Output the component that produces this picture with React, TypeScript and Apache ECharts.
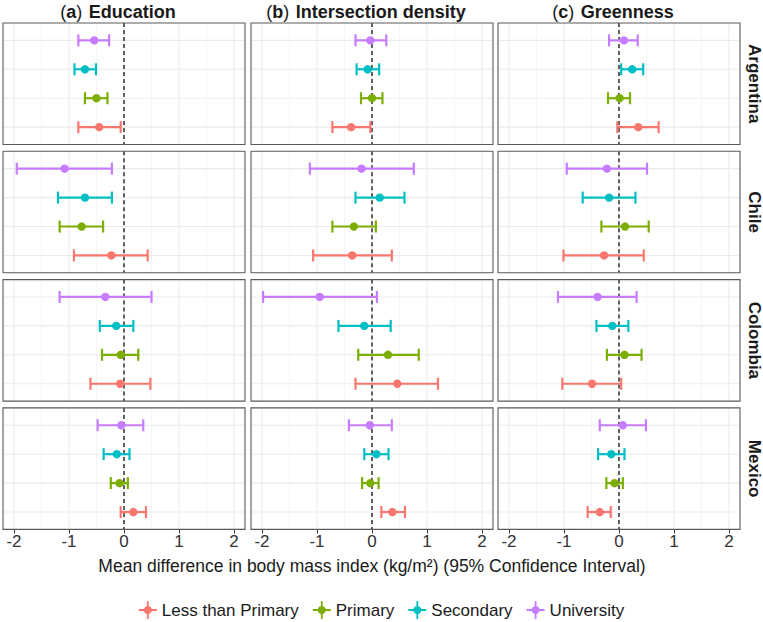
import React, { useEffect, useRef } from "react";
import * as echarts from "echarts";

const levels = ["Less than Primary", "Primary", "Secondary", "University"];
const levelColors = ["#F8766D", "#7CAE00", "#00BFC4", "#C77CFF"];
const countries = ["Argentina", "Chile", "Colombia", "Mexico"];
const exposures = ["Education", "Intersection density", "Greenness"];
const panelTags = ["a", "b", "c"];
const xTicks = [-2, -1, 0, 1, 2];
const xMinorTicks = [-1.5, -0.5, 0.5, 1.5];

// Each row: [lower 95% CI, estimate, upper 95% CI], in the order of `levels`
const argentinaEducation = [[-0.83, -0.45, -0.06], [-0.71, -0.5, -0.3], [-0.9, -0.71, -0.51], [-0.83, -0.54, -0.27]];
const argentinaIntersection = [[-0.72, -0.38, -0.03], [-0.2, 0.0, 0.19], [-0.28, -0.08, 0.13], [-0.3, -0.03, 0.26]];
const argentinaGreenness = [[-0.03, 0.35, 0.72], [-0.2, 0.01, 0.2], [0.04, 0.24, 0.44], [-0.18, 0.09, 0.34]];

const chileEducation = [[-0.91, -0.23, 0.43], [-1.17, -0.77, -0.38], [-1.2, -0.71, -0.22], [-1.95, -1.08, -0.22]];
const chileIntersection = [[-1.07, -0.36, 0.36], [-0.72, -0.33, 0.07], [-0.3, 0.14, 0.59], [-1.13, -0.19, 0.76]];
const chileGreenness = [[-1.01, -0.27, 0.45], [-0.32, 0.11, 0.54], [-0.66, -0.18, 0.3], [-0.95, -0.22, 0.51]];

const colombiaEducation = [[-0.61, -0.07, 0.48], [-0.4, -0.06, 0.26], [-0.44, -0.14, 0.17], [-1.17, -0.34, 0.5]];
const colombiaIntersection = [[-0.3, 0.46, 1.2], [-0.25, 0.29, 0.85], [-0.61, -0.14, 0.34], [-1.98, -0.95, 0.09]];
const colombiaGreenness = [[-1.03, -0.49, 0.04], [-0.22, 0.1, 0.41], [-0.41, -0.12, 0.17], [-1.11, -0.39, 0.32]];

const mexicoEducation = [[-0.06, 0.17, 0.4], [-0.24, -0.08, 0.07], [-0.37, -0.13, 0.1], [-0.48, -0.05, 0.35]];
const mexicoIntersection = [[0.17, 0.37, 0.6], [-0.18, -0.03, 0.12], [-0.14, 0.08, 0.3], [-0.42, -0.04, 0.36]];
const mexicoGreenness = [[-0.57, -0.35, -0.15], [-0.23, -0.08, 0.07], [-0.38, -0.14, 0.1], [-0.35, 0.07, 0.49]];

const panelData = [
  [argentinaEducation, argentinaIntersection, argentinaGreenness],
  [chileEducation, chileIntersection, chileGreenness],
  [colombiaEducation, colombiaIntersection, colombiaGreenness],
  [mexicoEducation, mexicoIntersection, mexicoGreenness],
];

const FONT = "'Liberation Sans', Arial, Helvetica, sans-serif";
const colLeft = [3, 251, 498];
const panelWidth = 242;
const rowTop0 = 23;
const rowStep = 128.3;
const panelHeight = 121.5;

const crossIcon =
  "path://M0,9L20,9L20,11L0,11Z M9,0L11,0L11,20L9,20Z M10,5.5A4.5,4.5,0,1,1,9.99,5.5Z";

function buildOption() {
  const grid: any[] = [];
  const xAxis: any[] = [];
  const yAxis: any[] = [];
  const series: any[] = [];

  for (let r = 0; r < countries.length; r++) {
    for (let c = 0; c < exposures.length; c++) {
      const idx = r * exposures.length + c;
      const bottomRow = r === countries.length - 1;
      grid.push({
        left: colLeft[c],
        top: rowTop0 + r * rowStep,
        width: panelWidth,
        height: panelHeight,
        containLabel: false,
      });
      xAxis.push({
        type: "value",
        gridIndex: idx,
        min: -2.2,
        max: 2.2,
        axisLine: { show: false },
        splitLine: { show: false },
        axisTick: {
          show: bottomRow,
          customValues: xTicks,
          length: 4,
          lineStyle: { color: "#333", width: 1 },
        },
        axisLabel: {
          show: bottomRow,
          customValues: xTicks,
          fontSize: 17,
          color: "#333",
          margin: 4,
          fontFamily: FONT,
        },
      });
      yAxis.push({ type: "value", gridIndex: idx, min: 0.4, max: 4.6, show: false });

      // panel background: grid lines, zero reference line and border
      series.push({
        type: "custom",
        xAxisIndex: idx,
        yAxisIndex: idx,
        silent: true,
        z: 1,
        data: [[0, 1]],
        renderItem: (params: any, api: any) => {
          const cs = params.coordSys;
          const top = cs.y;
          const bottom = cs.y + cs.height;
          const left = cs.x;
          const right = cs.x + cs.width;
          const children: any[] = [];
          xMinorTicks.forEach((v) => {
            const x = api.coord([v, 1])[0];
            children.push({
              type: "line",
              shape: { x1: x, y1: top, x2: x, y2: bottom },
              style: { stroke: "#F0F0F0", lineWidth: 0.7 },
            });
          });
          xTicks.forEach((v) => {
            const x = api.coord([v, 1])[0];
            children.push({
              type: "line",
              shape: { x1: x, y1: top, x2: x, y2: bottom },
              style: { stroke: "#EBEBEB", lineWidth: 1.1 },
            });
          });
          levels.forEach((_, k) => {
            const y = api.coord([0, k + 1])[1];
            children.push({
              type: "line",
              shape: { x1: left, y1: y, x2: right, y2: y },
              style: { stroke: "#EBEBEB", lineWidth: 1.1 },
            });
          });
          const x0 = api.coord([0, 1])[0];
          children.push({
            type: "line",
            shape: { x1: x0, y1: top, x2: x0, y2: bottom },
            style: { stroke: "#000", lineWidth: 1.2, lineDash: [4, 3] },
          });
          children.push({
            type: "rect",
            shape: { x: left, y: top, width: cs.width, height: cs.height },
            style: { fill: "none", stroke: "#5A5A5A", lineWidth: 1.1 },
          });
          return { type: "group", children };
        },
      });

      // point estimates with horizontal confidence-interval bars
      const rows = panelData[r][c];
      levels.forEach((name, k) => {
        const [lo, est, hi] = rows[k];
        series.push({
          type: "custom",
          name,
          xAxisIndex: idx,
          yAxisIndex: idx,
          z: 3,
          itemStyle: { color: levelColors[k] },
          data: [[lo, est, hi, k + 1]],
          encode: { x: [0, 1, 2], y: 3 },
          renderItem: (params: any, api: any) => {
            const y = api.value(3);
            const a = api.coord([api.value(0), y]);
            const m = api.coord([api.value(1), y]);
            const b = api.coord([api.value(2), y]);
            const color = api.visual("color");
            const half = 6;
            const lineStyle = { stroke: color, lineWidth: 2.2 };
            return {
              type: "group",
              children: [
                { type: "line", shape: { x1: a[0], y1: a[1], x2: b[0], y2: b[1] }, style: lineStyle },
                { type: "line", shape: { x1: a[0], y1: a[1] - half, x2: a[0], y2: a[1] + half }, style: lineStyle },
                { type: "line", shape: { x1: b[0], y1: b[1] - half, x2: b[0], y2: b[1] + half }, style: lineStyle },
                { type: "circle", shape: { cx: m[0], cy: m[1], r: 4.2 }, style: { fill: color } },
              ],
            };
          },
        });
      });
    }
  }

  const graphic: any[] = [];
  exposures.forEach((label, c) => {
    graphic.push({
      type: "text",
      x: colLeft[c] + panelWidth / 2 - 6,
      y: 12,
      style: {
        text: `{p|(}{b|${panelTags[c]}}{p|)}  {t|${label}}`,
        align: "center",
        verticalAlign: "middle",
        fill: "#1A1A1A",
        rich: {
          p: { fontSize: 18, fontFamily: FONT, fontWeight: "normal", fill: "#1A1A1A" },
          b: { fontSize: 18, fontFamily: FONT, fontWeight: "bold", fill: "#1A1A1A" },
          t: { fontSize: 18, fontFamily: FONT, fontWeight: "bold", fill: "#1A1A1A" },
        },
      },
    });
  });
  countries.forEach((name, r) => {
    graphic.push({
      type: "text",
      x: 754,
      y: rowTop0 + r * rowStep + panelHeight / 2,
      rotation: -Math.PI / 2,
      style: {
        text: name,
        align: "center",
        verticalAlign: "middle",
        fontSize: 17,
        fontWeight: "bold",
        fontFamily: FONT,
        fill: "#1A1A1A",
      },
    });
  });
  graphic.push({
    type: "text",
    x: 372,
    y: 566,
    style: {
      text: "Mean difference in body mass index (kg/m²) (95% Confidence Interval)",
      align: "center",
      verticalAlign: "middle",
      fontSize: 17.5,
      fontFamily: FONT,
      fill: "#1A1A1A",
    },
  });

  return {
    animation: false,
    backgroundColor: "#ffffff",
    textStyle: { fontFamily: FONT },
    grid,
    xAxis,
    yAxis,
    series,
    graphic,
    legend: {
      data: levels.map((name) => ({ name, icon: crossIcon })),
      top: 596,
      left: "center",
      itemWidth: 18,
      itemHeight: 18,
      itemGap: 14,
      selectedMode: false,
      textStyle: { fontSize: 17, color: "#1A1A1A", fontFamily: FONT },
    },
  };
}

export default function App() {
  const ref = useRef<HTMLDivElement>(null);
  useEffect(() => {
    if (!ref.current) return;
    const chart = echarts.init(ref.current, undefined, { renderer: "svg" });
    chart.setOption(buildOption());
    return () => chart.dispose();
  }, []);
  return (
    <div
      ref={ref}
      style={{ position: "fixed", left: 0, top: 0, width: 763, height: 622, background: "#fff" }}
    />
  );
}
